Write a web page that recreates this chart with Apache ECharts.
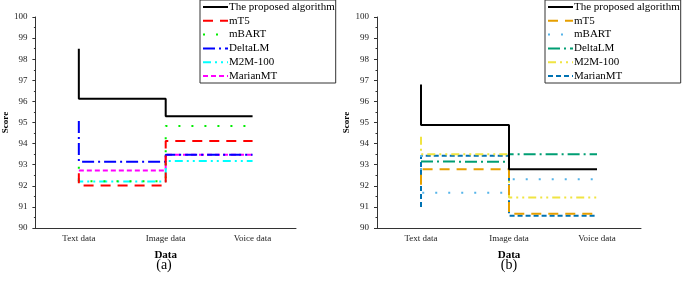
<!DOCTYPE html>
<html>
<head>
<meta charset="utf-8">
<script src="https://cdn.jsdelivr.net/npm/echarts@6/dist/echarts.min.js"></script>
<style>
    html, body { margin: 0; padding: 0; background: #fff; }
    #chart { width: 682px; height: 281px; }
</style>
</head>
<body>
<div id="chart"></div>
<script>
var categories = ['Text data', 'Image data', 'Voice data'];
var seriesNames = ['The proposed algorithm', 'mT5', 'mBART', 'DeltaLM', 'M2M-100', 'MarianMT'];

// panel (a)
var proposedA = [98.5, 96.13, 95.3];
var mt5A = [92.6, 92.02, 94.12];
var mbartA = [92.9, 92.22, 94.83];
var deltaA = [95.07, 93.14, 93.47];
var m2mA = [92.37, 92.2, 93.17];
var marianA = [92.72, 92.72, 93.47];

// panel (b)
var proposedB = [96.8, 94.88, 92.78];
var mt5B = [92.05, 92.78, 90.68];
var mbartB = [93.46, 91.67, 92.31];
var deltaB = [93.15, 93.14, 93.49];
var m2mB = [94.33, 93.49, 91.45];
var marianB = [91.0, 93.43, 90.58];

var colorsA = ['#000000', '#ff0000', '#00ee00', '#0000ff', '#00ffff', '#ff00ff'];
var colorsB = ['#000000', '#e69f00', '#56b4e9', '#009e73', '#f0e442', '#0072b2'];
var dashTypes = ['solid', [10, 7], [2, 11], [12, 4, 2, 4], [8, 4, 2, 4, 2, 4], [5, 3]];

var serif = '"Liberation Serif", "Times New Roman", serif';

function makeSeries(dataList, colors, axisIdx, suffix) {
    var list = [];
    for (var i = 0; i < dataList.length; i++) {
        list.push({
            name: seriesNames[i] + suffix,
            type: 'line',
            step: 'start',
            symbol: 'none',
            xAxisIndex: axisIdx,
            yAxisIndex: axisIdx / 2,
            data: dataList[i],
            color: colors[i],
            lineStyle: { color: colors[i], width: 2, type: dashTypes[i] },
            z: 10 - i,
            animation: false
        });
    }
    return list;
}

function mainX(grid) {
    return {
        type: 'category', gridIndex: grid, data: categories, boundaryGap: true,
        name: 'Data', nameLocation: 'middle', nameGap: 22,
        nameTextStyle: { fontFamily: serif, fontWeight: 'bold', fontSize: 11, color: '#000' },
        axisLine: { lineStyle: { color: '#333', width: 1 } },
        axisTick: { alignWithLabel: true, length: 3, lineStyle: { color: '#333' } },
        axisLabel: { fontFamily: serif, fontSize: 9, color: '#222', margin: 6 },
        splitLine: { show: false }
    };
}

function minorX(grid) {
    return {
        type: 'category', gridIndex: grid, data: categories, boundaryGap: true, position: 'bottom',
        axisLine: { show: false },
        axisTick: { length: 2, lineStyle: { color: '#333' } },
        axisLabel: { show: false },
        splitLine: { show: false }
    };
}

function yAx(grid) {
    return {
        type: 'value', gridIndex: grid, min: 90, max: 100, interval: 1,
        name: 'Score', nameLocation: 'middle', nameGap: 24,
        nameTextStyle: { fontFamily: serif, fontWeight: 'bold', fontSize: 9, color: '#000' },
        axisLine: { show: true, lineStyle: { color: '#333', width: 1 } },
        axisTick: { show: true, length: 3, lineStyle: { color: '#333' } },
        minorTick: { show: true, splitNumber: 2, length: 1.5, lineStyle: { color: '#333' } },
        axisLabel: { fontFamily: serif, fontSize: 9, color: '#222', margin: 8 },
        splitLine: { show: false }
    };
}

function makeLegend(left, suffix) {
    return {
        orient: 'vertical', left: left, top: 0,
        data: seriesNames.map(function (n) { return n + suffix; }),
        formatter: function (n) { return n.replace(/\u200b/g, ''); },
        itemWidth: 25, itemHeight: 12, itemGap: 1.8,
        padding: [1, 1, 1, 2],
        borderColor: '#333', borderWidth: 1, backgroundColor: '#fff',
        // hide the marker dot, keep the dashed line sample
        itemStyle: { opacity: 0, borderWidth: 0 },
        textStyle: { fontFamily: serif, fontSize: 11, color: '#000', lineHeight: 12, padding: [0, 0, 0, -4] },
        selectedMode: false
    };
}

var chart = echarts.init(document.getElementById('chart'));
var option = {
    animation: false,
    backgroundColor: '#fff',
    title: [
        { text: '(a)', left: 164, top: 258, textAlign: 'center', padding: 0,
          textStyle: { fontFamily: serif, fontWeight: 'normal', fontSize: 14, color: '#000' } },
        { text: '(b)', left: 509, top: 258, textAlign: 'center', padding: 0,
          textStyle: { fontFamily: serif, fontWeight: 'normal', fontSize: 14, color: '#000' } }
    ],
    legend: [makeLegend(200, ''), makeLegend(545, '\u200b')],
    grid: [
        { left: 32, top: 17, width: 264, height: 211, containLabel: false },
        { left: 377, top: 17, width: 264, height: 211, containLabel: false }
    ],
    xAxis: [mainX(0), minorX(0), mainX(1), minorX(1)],
    yAxis: [yAx(0), yAx(1)],
    series: makeSeries([proposedA, mt5A, mbartA, deltaA, m2mA, marianA], colorsA, 0, '')
        .concat(makeSeries([proposedB, mt5B, mbartB, deltaB, m2mB, marianB], colorsB, 2, '\u200b'))
};
chart.setOption(option);
</script>
</body>
</html>
